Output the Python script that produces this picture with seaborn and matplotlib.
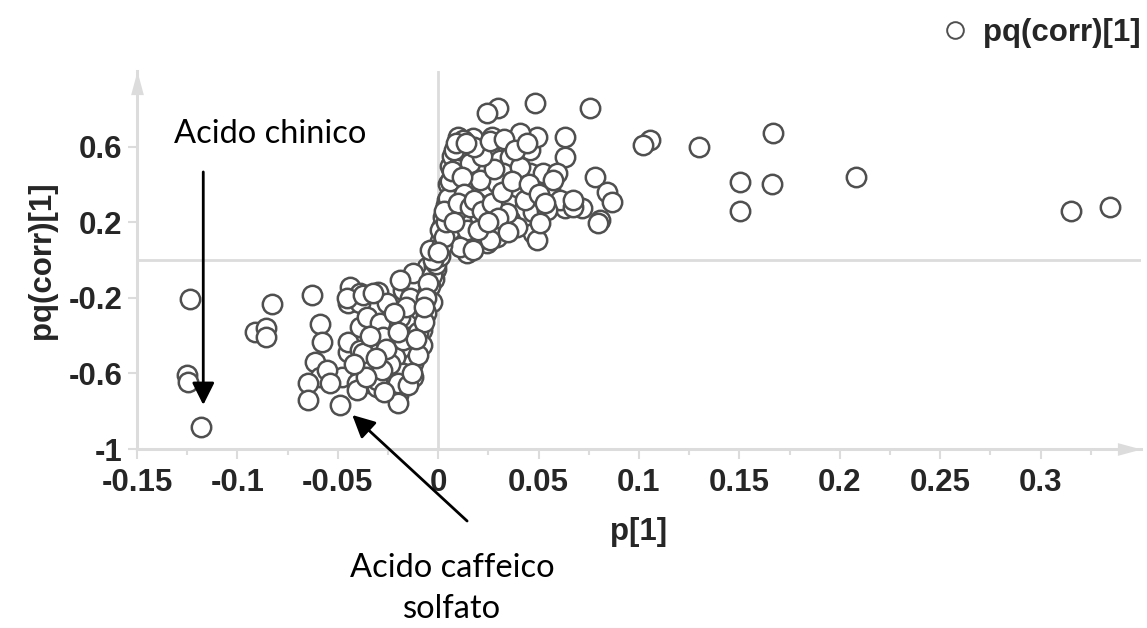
import matplotlib
matplotlib.use("Agg")
import matplotlib.pyplot as plt
from matplotlib.lines import Line2D
from matplotlib.path import Path
import pandas as pd
import seaborn as sns

# S-plot loadings: p[1] (covariance) against pq(corr)[1] (correlation)
p1 = [
    # far-left loadings
    -0.1235, -0.125, -0.1245, -0.118, -0.083, -0.091, -0.086, -0.0857, -0.0627,
    # negative cluster
    -0.0588, -0.0578, -0.0613, -0.0588, -0.0647, -0.0647, -0.0488, -0.0448, -0.0448, -0.0478,
    -0.0438, -0.0448, -0.0388, -0.0388, -0.0299, -0.0254, -0.0199, -0.0174, -0.0055, -0.0080,
    -0.0125, -0.0214, -0.0339, -0.0388, -0.0304, -0.0189, -0.0154, -0.0339, -0.0254, -0.0025,
    -0.0139, -0.0090, -0.0388, -0.0354, -0.0289, -0.0239, -0.0174, -0.0125, -0.0304, -0.0403,
    -0.0553, -0.0538, -0.0453, -0.0373, -0.0199, -0.0373, -0.0304, -0.0403, -0.0274, -0.0174,
    -0.0174, -0.0090, -0.0055, -0.0139, -0.0324, -0.0100, -0.0090, -0.0055, -0.0125, -0.0189,
    -0.001, -0.002, -0.004, -0.003, -0.006, -0.007, -0.008, -0.010, -0.011, -0.014,
    -0.016, -0.020, -0.022, -0.024, -0.026, -0.028, -0.031, -0.034, -0.036, -0.042,
    -0.020, -0.015, -0.027, -0.013,
    -0.002, -0.003, -0.005, -0.006, -0.007,
    # rising neck
    0.0045, 0.0060, 0.0100, 0.0085, 0.0070, 0.0060, 0.0144, 0.0144,
    0.001, 0.002, 0.004, 0.005, 0.006, 0.007, 0.009, -0.001, 0.001,
    # positive cluster
    0.0299, 0.0244, 0.0483, 0.0757, 0.0632, 0.0632, 0.0782, 0.0842, 0.0867, 0.0717,
    0.0807, 0.0797, 0.0632, 0.0174, 0.0125, 0.0269, 0.0344, 0.0458, 0.0493, 0.0408,
    0.0458, 0.0523, 0.0593, 0.0159, 0.0209, 0.0095, 0.0060, 0.0473, 0.0473, 0.0493,
    0.0294, 0.0344, 0.0309, 0.0359, 0.0110, 0.0110, 0.0075, 0.0244, 0.0393, 0.0558,
    0.0608, 0.0672, 0.0543, 0.0359, 0.0209, 0.0144, 0.0244, 0.0110, 0.0174, -0.0025,
    -0.0040, 0.0324, 0.0408, 0.0294, 0.0159, 0.0194, 0.0393, 0.0508, 0.0025, 0.0045,
    0.0010, 0.0344, 0.0259, 0.0209, 0.0573, 0.0672,
    0.002, 0.003, 0.004, 0.005, 0.006, 0.007, 0.008, 0.009, 0.003, 0.000,
    0.012, 0.013, 0.010, 0.008, 0.016, 0.018, 0.020, 0.022, 0.027, 0.030,
    0.032, 0.028, 0.022, 0.018, 0.014, 0.037, 0.043, 0.045, 0.050, 0.053,
    0.026, 0.033, 0.038, 0.044, 0.025, 0.035,
    # far-right loadings
    0.1056, 0.1021, 0.1300, 0.1668, 0.1504, 0.1663, 0.1504, 0.2080, 0.3150, 0.3347,
]

pq_corr = [
    -0.206, -0.608, -0.646, -0.884, -0.233, -0.381, -0.360, -0.407, -0.185,
    -0.339, -0.434, -0.540, -0.619, -0.651, -0.741, -0.767, -0.487, -0.434, -0.619,
    -0.143, -0.228, -0.228, -0.175, -0.169, -0.228, -0.714, -0.132, -0.175, -0.370,
    -0.545, -0.513, -0.651, -0.476, -0.423, -0.302, -0.407, -0.566, -0.619, -0.016,
    -0.106, -0.228, -0.354, -0.302, -0.333, -0.423, -0.598, -0.619, -0.672, -0.651,
    -0.582, -0.651, -0.201, -0.185, -0.757, -0.492, -0.635, -0.688, -0.407, -0.423,
    -0.159, -0.122, -0.069, -0.130, -0.175, -0.381, -0.265, -0.037, -0.069, -0.106,
    -0.050, -0.100, -0.140, -0.220, -0.280, -0.330, -0.450, -0.500, -0.420, -0.200,
    -0.250, -0.380, -0.280, -0.550, -0.470, -0.580, -0.520, -0.400, -0.620, -0.550,
    -0.650, -0.660, -0.700, -0.600,
    -0.030, -0.080, -0.120, -0.200, -0.250,
    0.143, 0.280, 0.651, 0.529, 0.386, 0.249, 0.037, 0.249,
    0.100, 0.180, 0.290, 0.400, 0.500, 0.550, 0.450, -0.020, 0.020,
    0.804, 0.778, 0.831, 0.804, 0.651, 0.545, 0.439, 0.360, 0.307, 0.275,
    0.212, 0.196, 0.275, 0.646, 0.635, 0.651, 0.608, 0.582, 0.651, 0.672,
    0.460, 0.460, 0.460, 0.386, 0.460, 0.265, 0.159, 0.254, 0.143, 0.106,
    0.122, 0.317, 0.529, 0.545, 0.545, 0.582, 0.370, 0.370, 0.386, 0.370,
    0.317, 0.280, 0.265, 0.212, 0.228, 0.159, 0.090, 0.069, 0.053, 0.000,
    0.053, 0.460, 0.492, 0.407, 0.513, 0.302, 0.175, 0.196, 0.228, 0.317,
    0.159, 0.249, 0.106, 0.423, 0.423, 0.317,
    0.080, 0.120, 0.200, 0.330, 0.420, 0.470, 0.580, 0.620, 0.260, 0.040,
    0.440, 0.350, 0.300, 0.200, 0.280, 0.320, 0.160, 0.260, 0.300, 0.220,
    0.360, 0.480, 0.550, 0.600, 0.620, 0.420, 0.320, 0.400, 0.350, 0.300,
    0.630, 0.640, 0.580, 0.620, 0.200, 0.150,
    0.635, 0.608, 0.598, 0.672, 0.415, 0.402, 0.259, 0.439, 0.259, 0.280,
]

x_ticks = [-0.15, -0.1, -0.05, 0, 0.05, 0.1, 0.15, 0.2, 0.25, 0.3]
x_tick_labels = ["-0.15", "-0.1", "-0.05", "0", "0.05", "0.1", "0.15", "0.2", "0.25", "0.3"]
x_minor_ticks = [-0.125, -0.075, -0.025, 0.025, 0.075, 0.125, 0.175, 0.225, 0.275, 0.325]
y_ticks = [-1, -0.6, -0.2, 0.2, 0.6]
y_tick_labels = ["-1", "-0.6", "-0.2", "0.2", "0.6"]

series_name = "pq(corr)[1]"

sns.set_style("white")
plt.rcParams["font.family"] = ["Liberation Sans", "DejaVu Sans"]

axis_grey = "#dcdcdc"
edge_grey = "#4f4f4f"
label_font = 22.5

fig = plt.figure(figsize=(11.47, 6.28), dpi=100)
ax = fig.add_axes([0.11944, 0.28503, 0.87533, 0.60191])

# zero reference lines behind the points
ax.axhline(0, color=axis_grey, lw=2.0, zorder=0)
ax.axvline(0, color=axis_grey, lw=2.0, zorder=0)

df = pd.DataFrame({"p[1]": p1, series_name: pq_corr})
sns.scatterplot(data=df, x="p[1]", y=series_name, ax=ax, s=195,
                facecolor="white", edgecolor=edge_grey, linewidth=1.8,
                zorder=3, legend=False)

ax.set_xlim(-0.15, 0.35)
ax.set_ylim(-1, 1.0)

for side in ["top", "right"]:
    ax.spines[side].set_visible(False)
for side in ["left", "bottom"]:
    ax.spines[side].set_color(axis_grey)
    ax.spines[side].set_linewidth(2.2)

# arrowheads at the open ends of the axes
up_head = Path([(-0.27, -1), (0.27, -1), (0, 0), (-0.27, -1)],
               [Path.MOVETO, Path.LINETO, Path.LINETO, Path.CLOSEPOLY])
right_head = Path([(-1, -0.27), (-1, 0.27), (0, 0), (-1, -0.27)],
                  [Path.MOVETO, Path.LINETO, Path.LINETO, Path.CLOSEPOLY])
ax.plot([0], [1], transform=ax.transAxes, marker=up_head, ms=34, color=axis_grey,
        mew=0, clip_on=False, zorder=4)
ax.plot([1], [0], transform=ax.transAxes, marker=right_head, ms=34, color=axis_grey,
        mew=0, clip_on=False, zorder=4)

ax.set_xticks(x_ticks, x_tick_labels, fontsize=label_font, fontweight="bold")
ax.set_xticks(x_minor_ticks, minor=True)
ax.set_yticks(y_ticks, y_tick_labels, fontsize=label_font, fontweight="bold")
ax.tick_params(axis="x", which="major", length=7, width=1.5, color=axis_grey, pad=7,
               bottom=True)
ax.tick_params(axis="x", which="minor", length=4.5, width=1.5, color=axis_grey,
               bottom=True)
ax.tick_params(axis="y", which="major", length=6.5, width=1.5, color=axis_grey, pad=4,
               left=True)

ax.set_xlabel("p[1]", fontsize=label_font, fontweight="bold", labelpad=13)
ax.set_ylabel(series_name, fontsize=label_font, fontweight="bold", labelpad=8)

# legend in the top right corner
handle = Line2D([], [], marker="o", ls="", ms=12, mfc="white", mec=edge_grey, mew=1.4)
fig.legend([handle], [series_name], loc="center left",
           bbox_to_anchor=(0.8215, 0.9475), bbox_transform=fig.transFigure,
           frameon=False, handlelength=0.8, handletextpad=0.5, borderpad=0,
           borderaxespad=0, prop={"family": "Liberation Sans", "weight": "bold",
                                  "size": label_font})

# annotated compounds
note_font = {"family": ["Lato", "DejaVu Sans"], "size": 23.5, "color": "black"}
arrow = dict(arrowstyle="-|>,head_length=0.4,head_width=0.2", mutation_scale=34,
             lw=2.0, color="black", shrinkA=0, shrinkB=0)

ax.text(-0.0837, 0.619, "Acido chinico", ha="center", va="baseline", **note_font)
ax.annotate("", xy=(-0.117, -0.767), xytext=(-0.117, 0.466),
            arrowprops=arrow, annotation_clip=False, zorder=5)

ax.annotate("", xy=(-0.0428, -0.820), xytext=(0.0144, -1.381),
            arrowprops=arrow, annotation_clip=False, zorder=5)
ax.text(0.007, -1.677, "Acido caffeico", ha="center", va="baseline", **note_font)
ax.text(0.007, -1.894, "solfato", ha="center", va="baseline", **note_font)

fig.savefig("out.png", dpi=100)
